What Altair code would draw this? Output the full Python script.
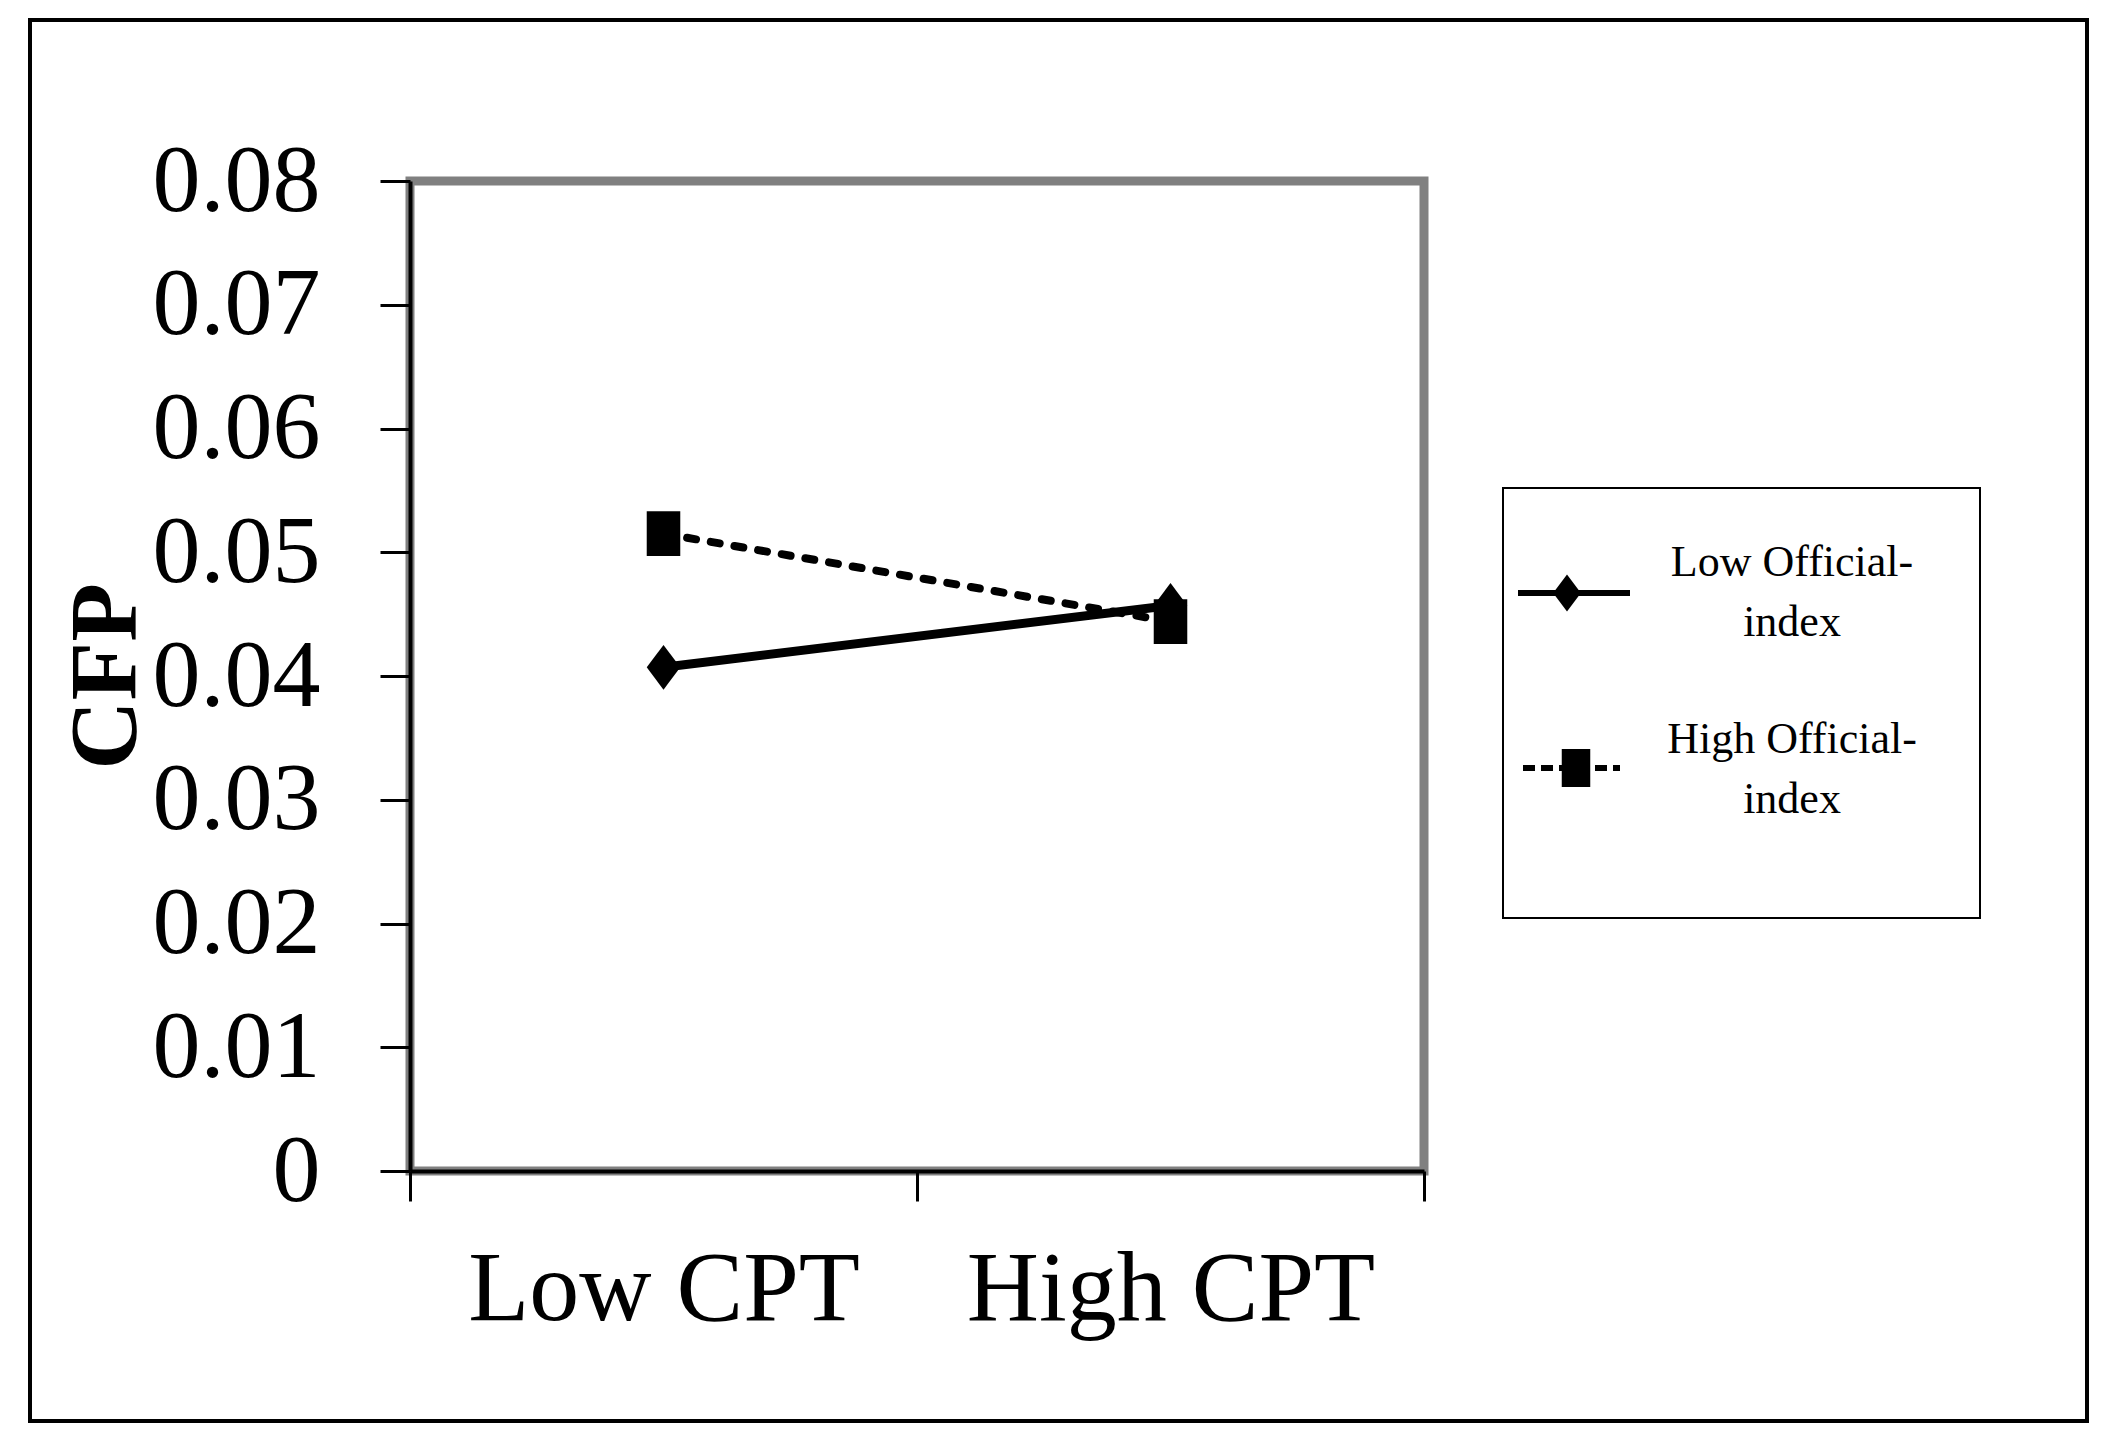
import altair as alt
import pandas as pd

categories = ["Low CPT", "High CPT"]
series_names = ["Low Official-index", "High Official-index"]
low_official = [0.0407, 0.0457]
high_official = [0.0515, 0.0444]
y_ticks = [0, 0.01, 0.02, 0.03, 0.04, 0.05, 0.06, 0.07, 0.08]

rows = []
for cat, v in zip(categories, low_official):
    rows.append({"cpt": cat, "series": series_names[0], "value": v})
for cat, v in zip(categories, high_official):
    rows.append({"cpt": cat, "series": series_names[1], "value": v})
df = pd.DataFrame(rows)

legend_df = pd.DataFrame({
    "series": series_names,
    "label": [s.replace("-", "-\n") for s in series_names],
})
frame_df = pd.DataFrame({"k": [0]})

FONT = "Liberation Serif"
DIAMOND = "M-0.75,0L0,-1L0.75,0L0,1Z"
SQUARE = "M-0.75,-1L0.75,-1L0.75,1L-0.75,1Z"

x_enc = alt.X(
    "cpt:N",
    sort=categories,
    scale=alt.Scale(type="band", domain=categories, paddingInner=0, paddingOuter=0),
    axis=alt.Axis(
        title=None, labelAngle=0, tickBand="extent", tickSize=30, tickWidth=3,
        tickColor="black", domainColor="black", domainWidth=4,
        labelFont=FONT, labelFontSize=100, labelColor="black", labelLimit=0,
        labelBaseline="alphabetic", labelPadding=118, grid=False,
    ),
)
y_enc = alt.Y(
    "value:Q",
    scale=alt.Scale(domain=[0, 0.08], nice=False, zero=True),
    axis=alt.Axis(
        values=y_ticks, title="CFP", titleFont=FONT, titleFontSize=96,
        titleFontWeight="bold", titleColor="black", titleAngle=270,
        titleX=-275, titleY=495, titleAlign="center", titleBaseline="alphabetic",
        labelExpr="datum.value == 0 ? '0' : format(datum.value, '.2f')",
        labelFont=FONT, labelFontSize=96, labelColor="black", labelPadding=60,
        labelOverlap=False, labelBound=False, labelFlush=False, labelLimit=0,
        tickSize=30, tickWidth=3, tickColor="black",
        domainColor="black", domainWidth=4, grid=False,
    ),
)

base = alt.Chart(df).encode(x=x_enc, y=y_enc)

high_line = base.transform_filter(alt.datum.series == series_names[1]).mark_line(
    color="black", strokeWidth=8, strokeDash=[9, 15], strokeCap="round"
)
low_line = base.transform_filter(alt.datum.series == series_names[0]).mark_line(
    color="black", strokeWidth=9
)
low_pts = base.transform_filter(alt.datum.series == series_names[0]).mark_point(
    filled=True, shape=DIAMOND, size=2000, color="black", opacity=1
)
high_pts = base.transform_filter(alt.datum.series == series_names[1]).mark_point(
    filled=True, shape=SQUARE, size=2000, color="black", opacity=1
)

outer = alt.Chart(frame_df).mark_rect(
    fill="white", fillOpacity=0, stroke="black", strokeWidth=4
).encode(
    x=alt.value(-380), x2=alt.value(1677), y=alt.value(-161), y2=alt.value(1240)
)

legend_box = alt.Chart(frame_df).mark_rect(
    fill="white", stroke="black", strokeWidth=2
).encode(
    x=alt.value(1093), x2=alt.value(1570), y=alt.value(307), y2=alt.value(737)
)

leg = alt.Chart(legend_df)
leg1 = leg.transform_filter(alt.datum.series == series_names[0])
leg2 = leg.transform_filter(alt.datum.series == series_names[1])

leg1_line = leg1.mark_rule(color="black", strokeWidth=6).encode(
    x=alt.value(1108), x2=alt.value(1220), y=alt.value(412)
)
leg1_pt = leg1.mark_point(filled=True, shape=DIAMOND, size=1369, color="black", opacity=1).encode(
    x=alt.value(1157), y=alt.value(412)
)
leg1_txt = leg1.mark_text(
    font=FONT, fontSize=44, align="center", baseline="alphabetic",
    lineBreak="\n", lineHeight=60, color="black"
).encode(x=alt.value(1382), y=alt.value(395), text="label:N")

leg2_line = leg2.mark_rule(color="black", strokeWidth=6, strokeDash=[12, 6]).encode(
    x=alt.value(1113), x2=alt.value(1210), y=alt.value(587)
)
leg2_pt = leg2.mark_point(filled=True, shape=SQUARE, size=1444, color="black", opacity=1).encode(
    x=alt.value(1166), y=alt.value(587)
)
leg2_txt = leg2.mark_text(
    font=FONT, fontSize=44, align="center", baseline="alphabetic",
    lineBreak="\n", lineHeight=60, color="black"
).encode(x=alt.value(1382), y=alt.value(572), text="label:N")

chart = alt.layer(
    outer, high_line, low_line, low_pts, high_pts,
    legend_box, leg1_line, leg1_pt, leg1_txt, leg2_line, leg2_pt, leg2_txt,
).properties(
    width=1014, height=990,
    autosize=alt.AutoSizeParams(type="none"),
    padding={"left": 402, "top": 173, "right": 680, "bottom": 260},
    background="white",
).configure_view(
    stroke="#808080", strokeWidth=9
)

chart.save("out.html", embed_options={"renderer": "svg", "actions": False})
